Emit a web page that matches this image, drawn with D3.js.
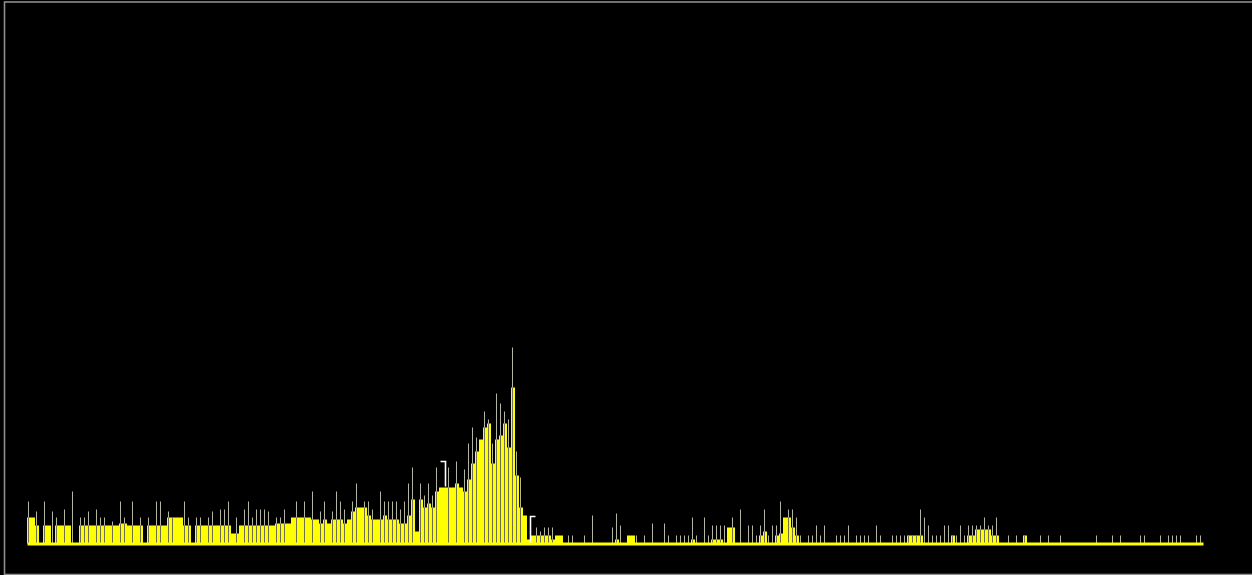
<!DOCTYPE html>
<html>
<head>
<meta charset="utf-8">
<script src="https://cdn.jsdelivr.net/npm/d3@7"></script>
<style>
  html, body { margin: 0; padding: 0; background: #000; }
  svg { display: block; }
</style>
</head>
<body>
<svg id="wave" width="1252" height="575"></svg>
<script>
// Envelope level of each column (filled yellow body), one value per column
const fillLevels = [
  13,13,9,0,9,9,0,9,9,9,   9,0,0,9,9,9,9,9,9,9,
  9,9,9,10,10,9,9,9,9,0,   9,9,9,9,9,13,13,13,13,9,
  9,0,9,9,9,9,9,9,9,9,     9,5,5,9,9,9,9,9,9,9,
  9,9,10,10,10,10,13,13,13,13, 13,12,12,10,12,10,12,12,12,10,
  12,16,18,18,18,14,12,12,12,14, 12,12,12,10,10,14,
  22,6,22,18,20,18,26,28,28,
  28,28,30,28,26,32,40,46,52,58, 60,40,52,54,60,48,78,34,18,14,
  2,
  4,4,4,4,4,2,4,4,0,0,     0,0,0,0,0,0,0,0,0,0,
  0,2,0,0,4,4,0,0,0,0,     0,0,0,0,0,0,0,0,0,0,
  2,0,0,0,0,2,2,2,0,8,     8,0,0,0,0,0,0,4,6,0,
  0,4,5,13,13,8,4,0,0,0,   0,0,0,0,0,0,0,0,0,0,
  0,0,0,0,0,0,0,0,0,0,     0,0,0,0,4,4,4,4,0,0,
  0,0,0,0,0,4,0,0,0,4,     4,7,7,7,7,4,4,0,0,0,
  0,0,0,4,0,0,0,0,0,0,     0,0,0,0,0,0,0,0,0,0,
  0,0,0,0,0,0,0,0,0,0,     0,0,0,0,0,0,0,0,0,0,
  0,0,0,0,0,0,0,0
];

// Peak level of each column (thin grey peak line), 0 where no peak is shown
const peakLevels = [
  21,0,16,0,21,0,16,13,0,17,   0,26,0,13,13,16,0,17,13,13,
  0,11,0,21,13,0,21,0,13,0,    13,0,21,21,0,16,13,0,0,21,
  13,0,13,13,0,13,16,0,17,17,  21,0,13,0,17,21,13,17,17,17,
  16,0,13,13,17,0,0,21,0,21,   0,26,0,16,21,0,16,26,21,17,
  0,21,30,0,21,21,17,0,26,21,  21,21,21,17,21,30,
  38,0,30,24,30,24,38,0,0,
  38,0,41,0,37,50,58,53,0,66,  62,50,75,70,66,62,98,46,33,0,
  0,
  0,8,6,8,8,8,0,0,0,4,         4,0,0,4,0,14,0,0,0,0,
  8,15,9,0,0,0,4,0,4,0,        10,0,0,10,4,0,4,4,4,4,
  13,4,0,13,4,9,9,9,9,0,       13,0,17,0,9,9,4,9,17,4,
  9,9,21,0,17,17,13,4,0,4,     4,9,4,9,0,0,4,4,4,9,
  0,4,4,4,4,0,9,4,0,0,         4,4,4,4,4,4,4,17,13,9,
  4,4,4,9,9,4,4,9,4,9,         9,9,9,13,9,9,13,0,0,4,
  0,4,0,4,0,0,0,4,0,4,         0,0,4,0,0,0,0,0,0,0,
  0,4,0,0,0,4,0,4,0,0,         0,0,4,4,0,0,0,4,0,4,
  4,4,4,0,0,0,4,4
];

// Region markers: column position, top and bottom level of the flag
const markerPositions = [104.5, 125.75];
const markerTops = [41, 13.5];
const markerBottoms = [28.5, 0.5];
const markerKinds = ["end", "start"];

const svg = d3.select("#wave");
const W = 1252, H = 575;

svg.append("rect")
  .attr("width", W).attr("height", H)
  .attr("fill", "#000");

// Window frame
svg.append("rect")
  .attr("x", 4.5).attr("y", 2)
  .attr("width", W - 3.5).attr("height", H - 2.5)
  .attr("fill", "none")
  .attr("stroke", "#8e8e8e")
  .attr("stroke-width", 1.6);

const n = fillLevels.length;
const x = d3.scaleLinear().domain([0, n]).range([27, 1203]);
const y = d3.scaleLinear().domain([0, 250]).range([543.5, 43.5]);

const cols = d3.range(n).map(i => ({ i, fill: fillLevels[i], peak: peakLevels[i] }));
const px = d => Math.round(x(d.i)) + 1.5;

// Yellow envelope columns
svg.append("g")
  .selectAll("rect")
  .data(cols.filter(d => d.fill > 0))
  .join("rect")
  .attr("x", d => x(d.i))
  .attr("width", d => x(d.i + 1) - x(d.i))
  .attr("y", d => y(d.fill))
  .attr("height", d => y(0) - y(d.fill))
  .attr("fill", "#ffff00");

const peaks = cols.filter(d => d.peak > 0);

// Peak lines: darker where they cross the envelope, light grey above it
svg.append("g")
  .selectAll("line")
  .data(peaks.filter(d => d.fill > 0))
  .join("line")
  .attr("x1", px).attr("x2", px)
  .attr("y1", y(0))
  .attr("y2", d => y(Math.min(d.fill, d.peak)))
  .attr("stroke", "#6f6f52")
  .attr("stroke-width", 1);

svg.append("g")
  .selectAll("line")
  .data(peaks.filter(d => d.peak > d.fill))
  .join("line")
  .attr("x1", px).attr("x2", px)
  .attr("y1", d => y(d.fill))
  .attr("y2", d => y(d.peak))
  .attr("stroke", "#b4b4a2")
  .attr("stroke-width", 1);

// Zero line drawn as the axis domain
const axis = svg.append("g")
  .attr("transform", `translate(0,${y(0)})`)
  .call(d3.axisBottom(x).tickValues([]).tickSizeOuter(0));
axis.select(".domain")
  .attr("stroke", "#ffff00")
  .attr("stroke-width", 3.2);

// Region markers
svg.append("g")
  .selectAll("path")
  .data(markerPositions.map((p, k) => ({ p, top: markerTops[k], bottom: markerBottoms[k], kind: markerKinds[k] })))
  .join("path")
  .attr("d", d => {
    const mx = Math.round(x(d.p)) + 0.5;
    const dir = d.kind === "start" ? 1 : -1;
    return `M${mx + dir * 5},${y(d.top)}H${mx}V${y(d.bottom)}`;
  })
  .attr("fill", "none")
  .attr("stroke", "#ffffff")
  .attr("stroke-width", 1.6);
</script>
</body>
</html>
